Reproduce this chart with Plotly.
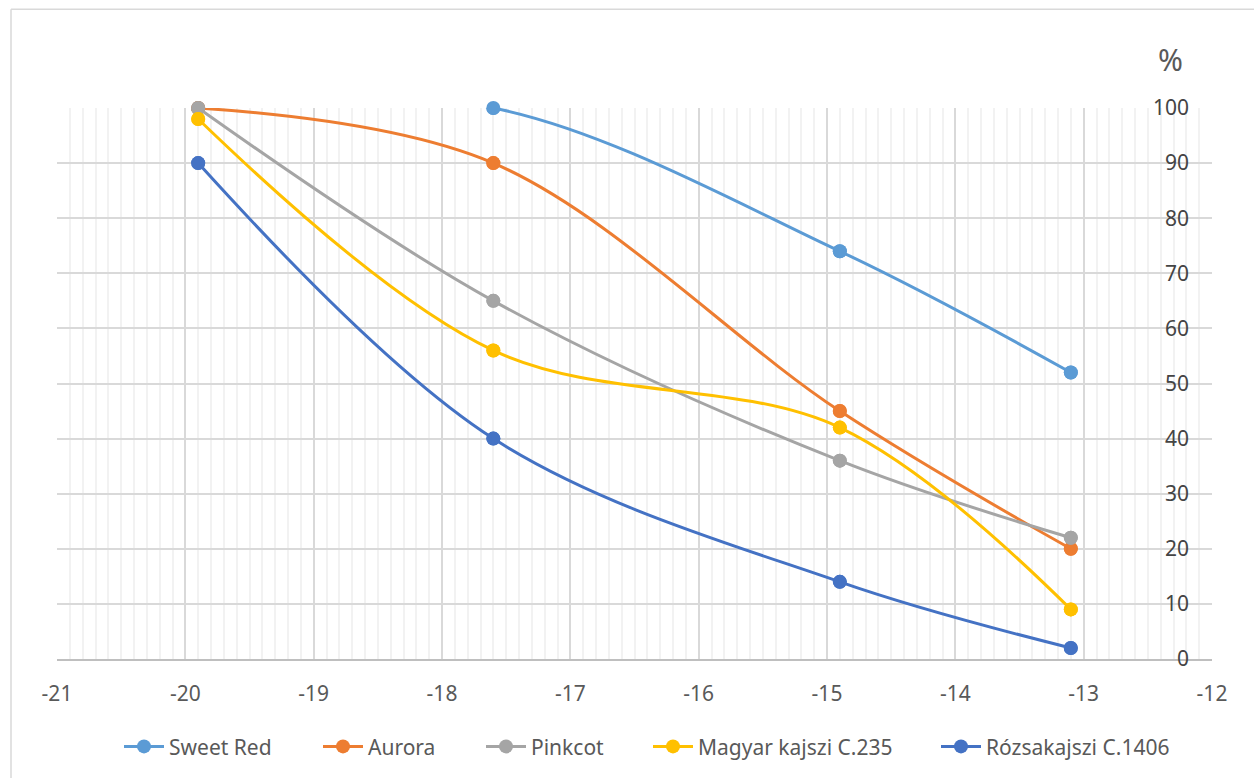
import plotly.graph_objects as go

# Temperature (°C) at which buds were assessed, and share of damaged buds (%)
temps = [-19.9, -17.6, -14.9, -13.1]
series_names = ["Sweet Red", "Aurora", "Pinkcot", "Magyar kajszi C.235", "Rózsakajszi C.1406"]
sweet_red = [100, 100, 74, 52]
aurora = [100, 90, 45, 20]
pinkcot = [100, 65, 36, 22]
magyar = [98, 56, 42, 9]
rozsa = [90, 40, 14, 2]
series_values = [sweet_red, aurora, pinkcot, magyar, rozsa]
colors = ["#5B9BD5", "#ED7D31", "#A5A5A5", "#FFC000", "#4472C4"]

x_ticks = list(range(-21, -11))
y_ticks = list(range(0, 101, 10))

W, H = 1254, 778
L, R, T, B = 57, 42, 108, 118
pw, ph = W - L - R, H - T - B

FONT = "Noto Sans"
TXT = "#595959"
FS = 21
MS = 14

# left pixel of each legend entry along the bottom row
legend_px = [119, 318, 481, 648, 936]
legend_ids = ["legend", "legend2", "legend3", "legend4", "legend5"]

fig = go.Figure()
for name, vals, col, lid in zip(series_names, series_values, colors, legend_ids):
    # smoothed line, clipped to the plot area
    fig.add_trace(go.Scatter(
        x=temps, y=vals, name=name, legendgroup=name, legend=lid,
        mode="lines+markers",
        line=dict(color=col, width=3, shape="spline", smoothing=1),
        marker=dict(color=col, size=MS),
        cliponaxis=True,
    ))
    # markers drawn unclipped so points on the top edge stay whole
    fig.add_trace(go.Scatter(
        x=temps, y=vals, legendgroup=name, showlegend=False,
        mode="markers", marker=dict(color=col, size=MS),
        cliponaxis=False, hoverinfo="skip",
    ))

# outer chart frame (left and top edges)
fx0 = (11 - L) / pw
fy1 = (H - B - 9) / ph
fig.add_shape(type="line", xref="paper", yref="paper", x0=fx0, x1=fx0, y0=fy1, y1=-0.3,
              line=dict(color="#D9D9D9", width=1.5), layer="below")
fig.add_shape(type="line", xref="paper", yref="paper", x0=fx0, x1=1.1, y0=fy1, y1=fy1,
              line=dict(color="#D9D9D9", width=1.5), layer="below")

fig.add_annotation(text="%", xref="paper", yref="paper",
                   x=(1185 - L) / pw, y=(H - B - 37) / ph,
                   showarrow=False, font=dict(family=FONT, size=30, color=TXT))

legend_layout = {}
for lid, px in zip(legend_ids, legend_px):
    legend_layout[lid] = dict(
        orientation="h", x=(px - L) / pw, xanchor="left",
        y=-0.12, yanchor="top", bgcolor="rgba(0,0,0,0)",
        font=dict(family=FONT, size=FS, color=TXT), itemwidth=40,
    )

fig.update_layout(
    width=W, height=H,
    margin=dict(l=L, r=R, t=T, b=B, pad=0),
    paper_bgcolor="white", plot_bgcolor="white",
    font=dict(family=FONT, size=FS, color=TXT),
    showlegend=True,
    xaxis=dict(
        range=[-21, -12], tickvals=x_ticks, ticktext=[str(v) for v in x_ticks],
        showgrid=True, gridcolor="#D9D9D9", gridwidth=1.5,
        minor=dict(dtick=0.1, showgrid=True, gridcolor="#F2F2F2", gridwidth=1.5),
        showline=True, linecolor="#BFBFBF", linewidth=1.5,
        zeroline=False, ticks="", ticklabelstandoff=15, ticklabeloverflow="allow",
    ),
    yaxis=dict(
        range=[0, 100], tickvals=y_ticks, side="right",
        showgrid=True, gridcolor="#D9D9D9", gridwidth=1.5,
        zeroline=False, showline=False, ticks="",
        ticklabelposition="inside", ticklabelstandoff=20, ticklabeloverflow="allow",
    ),
    **legend_layout,
)

fig.write_html("out.html")
